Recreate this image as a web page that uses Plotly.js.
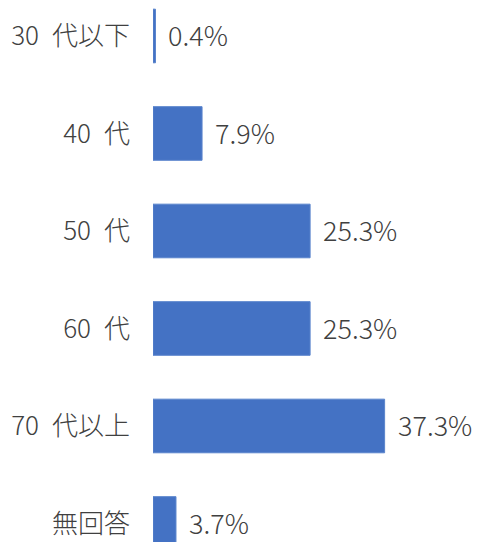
<!DOCTYPE html>
<html><head><meta charset="utf-8">
<script src="https://cdn.plot.ly/plotly-3.0.1.min.js"></script>
<style>html,body{margin:0;padding:0;background:#fff;}</style>
</head><body>
<div id="chart" style="width:480px;height:542px;"></div>
<script>
const categories = ["30 代以下", "40 代", "50 代", "60 代", "70 代以上", "無回答"];
const tickLabels = ["30\u2002代以下", "40\u2002代", "50\u2002代", "60\u2002代", "70\u2002代以上", "無回答"];
const values = [0.4, 7.9, 25.3, 25.3, 37.3, 3.7];
const valueLabels = ["0.4%", "7.9%", "25.3%", "25.3%", "37.3%", "3.7%"];

const font = "'Noto Sans CJK JP', 'Noto Sans', sans-serif";
const trace = {
  type: 'bar', orientation: 'h',
  x: values, y: categories,
  width: 0.55,
  marker: {color: '#4472C4', line: {color: '#5a84cc', width: 1}},
  hoverinfo: 'none'
};
const annotations = values.map((v, i) => ({
  x: v, y: categories[i], xref: 'x', yref: 'y',
  text: valueLabels[i], showarrow: false,
  xanchor: 'left', yanchor: 'middle', xshift: 11, yshift: 1,
  font: {family: font, size: 27, weight: 300, color: '#404040'}
}));
const layout = {
  width: 480, height: 542,
  margin: {l: 153, r: 0, t: 0, b: 0},
  paper_bgcolor: '#fff', plot_bgcolor: '#fff',
  showlegend: false,
  xaxis: {range: [0, 52.66], showgrid: false, zeroline: false, showline: false, showticklabels: false, fixedrange: true},
  yaxis: {type: 'category', categoryorder: 'array', categoryarray: categories,
    tickmode: 'array', tickvals: categories, ticktext: tickLabels,
    range: [5.19, -0.369], showgrid: false, zeroline: false, showline: false,
    ticks: '', ticklabelstandoff: 22,
    tickfont: {family: font, size: 26, weight: 300, color: '#404040'}},
  annotations: annotations
};
Plotly.newPlot('chart', [trace], layout, {displayModeBar: false, staticPlot: true});
</script>
</body></html>
